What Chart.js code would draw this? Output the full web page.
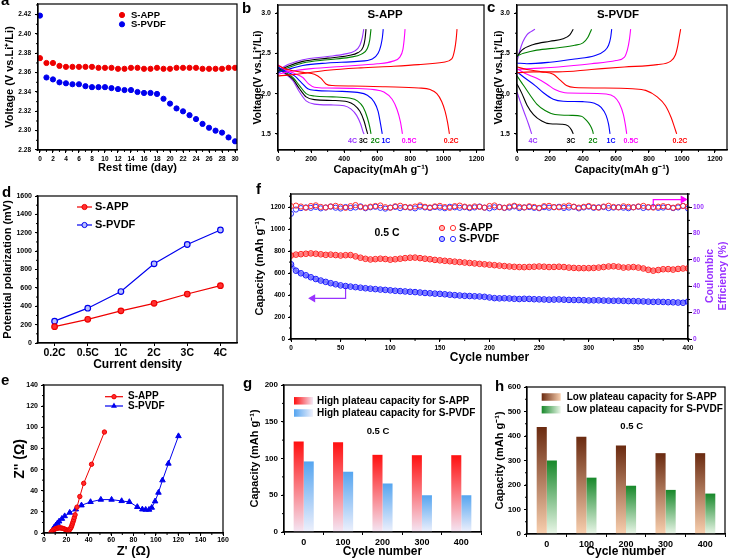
<!DOCTYPE html>
<html>
<head>
<meta charset="utf-8">
<script src="https://cdn.jsdelivr.net/npm/chart.js@4/dist/chart.umd.min.js"></script>
<style>
body { margin: 0; background: #fff; width: 730px; height: 560px; position: relative; overflow: hidden; }
canvas { position: absolute; }
.tag { position: absolute; font: bold 15px "Liberation Sans", Arial, sans-serif; line-height: 15px; }
</style>
</head>
<body>
<canvas id="cA"></canvas><canvas id="cB"></canvas><canvas id="cC"></canvas>
<canvas id="cD"></canvas><canvas id="cF"></canvas>
<canvas id="cE"></canvas><canvas id="cG"></canvas><canvas id="cH"></canvas>
<div class="tag" style="left:1px;top:-8px">a</div>
<div class="tag" style="left:242px;top:0px">b</div>
<div class="tag" style="left:487px;top:-1px">c</div>
<div class="tag" style="left:2px;top:184px">d</div>
<div class="tag" style="left:1px;top:372px">e</div>
<div class="tag" style="left:256px;top:181px">f</div>
<div class="tag" style="left:243px;top:375px">g</div>
<div class="tag" style="left:495px;top:378px">h</div>
<script>
// ---------- a: voltage while resting ----------
const restDays = [0,1,2,3,4,5,6,7,8,9,10,11,12,13,14,15,16,17,18,19,20,21,22,23,24,25,26,27,28,29,30];
const restVoltApp = [2.375,2.370,2.370,2.367,2.366,2.366,2.366,2.366,2.366,2.365,2.365,2.365,2.364,2.364,2.365,2.365,
  2.364,2.364,2.365,2.364,2.364,2.365,2.365,2.365,2.365,2.364,2.364,2.364,2.364,2.365,2.365];
const restVoltPvdf = [2.419,2.355,2.353,2.350,2.349,2.348,2.348,2.346,2.345,2.345,2.345,2.344,2.343,2.342,2.342,2.340,
  2.339,2.339,2.338,2.333,2.328,2.323,2.320,2.316,2.312,2.307,2.303,2.300,2.298,2.293,2.289];

// ---------- b / c: charge-discharge profiles, [capacity, voltage] ----------
const rateNames = ['0.2C', '0.5C', '1C', '2C', '3C', '4C'];
const appDis02 = [[0,2.35],[40,2.31],[100,2.28],[160,2.26],[220,2.24],[260,2.19],[290,2.12],[330,2.10],[450,2.095],[650,2.085],[850,2.07],[920,2.05],[960,2.00],[990,1.90],[1010,1.78],[1025,1.64],[1036,1.50]];
const appDis05 = [[0,2.36],[40,2.30],[100,2.25],[150,2.20],[185,2.12],[220,2.08],[300,2.07],[450,2.065],[580,2.05],[640,2.02],[690,1.93],[720,1.80],[740,1.65],[752,1.50]];
const appDis1 = [[0,2.33],[40,2.28],[100,2.22],[140,2.14],[180,2.06],[230,2.04],[350,2.03],[480,2.015],[540,1.98],[580,1.90],[605,1.78],[620,1.62],[630,1.50]];
const appDis2 = [[0,2.33],[40,2.27],[90,2.20],[130,2.10],[170,2.00],[220,1.97],[330,1.96],[430,1.945],[480,1.91],[515,1.83],[540,1.70],[555,1.58],[562,1.50]];
const appDis3 = [[0,2.32],[40,2.26],[90,2.18],[130,2.06],[170,1.96],[220,1.925],[330,1.915],[420,1.90],[460,1.86],[495,1.78],[520,1.66],[535,1.55],[542,1.50]];
const appDis4 = [[0,2.31],[40,2.25],[90,2.16],[130,2.02],[170,1.91],[220,1.87],[320,1.86],[400,1.85],[440,1.81],[475,1.73],[500,1.62],[515,1.52],[520,1.50]];
const appChg02 = [[0,2.22],[60,2.23],[150,2.25],[300,2.29],[500,2.32],[700,2.34],[850,2.36],[1000,2.39],[1050,2.43],[1068,2.55],[1077,2.68],[1082,2.80]];
const appChg05 = [[0,2.24],[60,2.27],[200,2.31],[400,2.34],[600,2.37],[690,2.40],[735,2.45],[755,2.55],[763,2.68],[768,2.80]];
const appChg1 = [[0,2.26],[60,2.30],[150,2.35],[300,2.38],[480,2.40],[570,2.43],[605,2.50],[622,2.60],[631,2.70],[636,2.80]];
const appChg2 = [[0,2.27],[60,2.32],[150,2.38],[300,2.42],[430,2.45],[505,2.49],[540,2.56],[554,2.66],[562,2.80]];
const appChg3 = [[0,2.28],[60,2.34],[150,2.40],[300,2.44],[420,2.47],[485,2.51],[515,2.58],[526,2.68],[532,2.80]];
const appChg4 = [[0,2.29],[60,2.36],[150,2.42],[300,2.46],[400,2.49],[465,2.53],[495,2.60],[510,2.70],[518,2.80]];

const pvdfDis02 = [[0,2.33],[60,2.30],[150,2.27],[220,2.24],[260,2.17],[300,2.10],[350,2.075],[500,2.07],[700,2.06],[780,2.04],[850,1.96],[900,1.85],[935,1.70],[955,1.58],[968,1.50]];
const pvdfDis05 = [[0,2.31],[50,2.25],[120,2.19],[180,2.12],[230,2.05],[290,2.01],[400,2.005],[540,1.995],[590,1.96],[620,1.88],[645,1.74],[658,1.60],[665,1.50]];
const pvdfDis1 = [[0,2.27],[50,2.19],[110,2.10],[160,2.01],[220,1.93],[280,1.905],[400,1.90],[470,1.88],[510,1.83],[540,1.73],[555,1.62],[564,1.50]];
const pvdfDis2 = [[0,2.22],[40,2.10],[80,1.98],[120,1.87],[170,1.79],[230,1.74],[330,1.73],[390,1.72],[420,1.67],[445,1.60],[458,1.54],[463,1.50]];
const pvdfDis3 = [[0,2.12],[30,2.00],[60,1.86],[100,1.74],[150,1.66],[200,1.625],[270,1.62],[310,1.60],[330,1.55],[341,1.50]];
const pvdfDis4 = [[0,2.02],[20,1.90],[45,1.76],[70,1.62],[89,1.50]];
const pvdfChg02 = [[0,2.26],[100,2.27],[250,2.27],[450,2.30],[650,2.33],[850,2.36],[930,2.40],[960,2.48],[975,2.60],[985,2.72],[992,2.80]];
const pvdfChg05 = [[0,2.30],[80,2.31],[250,2.33],[450,2.37],[600,2.41],[650,2.45],[670,2.55],[682,2.68],[689,2.80]];
const pvdfChg1 = [[0,2.38],[60,2.37],[200,2.39],[350,2.43],[470,2.47],[530,2.53],[555,2.60],[568,2.70],[574,2.80]];
const pvdfChg2 = [[0,2.47],[40,2.50],[120,2.54],[250,2.57],[350,2.60],[400,2.63],[430,2.70],[452,2.80]];
const pvdfChg3 = [[0,2.46],[30,2.54],[100,2.61],[200,2.65],[280,2.68],[320,2.73],[341,2.80]];
const pvdfChg4 = [[0,2.40],[15,2.52],[35,2.64],[60,2.73],[85,2.77],[109,2.80]];

// ---------- d: polarization ----------
const rateCats = ['0.2C', '0.5C', '1C', '2C', '3C', '4C'];
const polApp = [178, 258, 350, 432, 533, 624];
const polPvdf = [238, 379, 560, 862, 1072, 1230];

// ---------- e: Nyquist ----------
const appZre = [6,7,8,9,10,11,12,13,14,15,16,17,18,19,20,21,22,22.8,23.5,24.2,24.8,25.3,25.9,26.5,27.1,27.8,29.5,32,35.5,42.5,54];
const appZim = [0,1.6,2.6,3.3,3.9,4.3,4.6,4.8,4.9,4.8,4.6,4.3,3.9,3.4,3.0,2.6,2.5,3.0,4.0,5.3,6.8,8.5,10.4,12.4,14.6,17.2,24.5,34.5,47,65,95.5];
const pvdfZre = [6,7,8,9,10.5,12,13.5,16,18.5,23,28.4,33.5,41.6,50.8,60.4,69.4,76.3,83.4,87.9,90.9,93.9,96.3,99.3,102.3,105.9,111.2,120.2];
const pvdfZim = [0,1.8,3.5,5.2,7.3,9.2,11,13.5,16,19.3,22.4,26.2,29.4,31.6,31.6,30.3,29.4,24.7,22.4,22.1,22.1,24,30,38.2,49.9,65.7,91.7];

// ---------- f: cycling at 0.5 C (every 5th cycle) ----------
const cycles = [0,5,10,15,20,25,30,35,40,45,50,55,60,65,70,75,80,85,90,95,100,105,110,115,120,125,130,135,140,145,
  150,155,160,165,170,175,180,185,190,195,200,205,210,215,220,225,230,235,240,245,250,255,260,265,270,275,280,285,290,295,
  300,305,310,315,320,325,330,335,340,345,350,355,360,365,370,375,380,385,390,395,400];
const capApp = [760,768,772,776,779,776,771,766,768,764, 760,763,764,752,740,730,724,727,731,728,
  722,726,731,736,740,741,736,731,726,720, 716,712,708,704,700,696,692,688,684,680,
  676,672,668,664,660,657,655,654,656,658, 660,658,655,656,658,655,650,647,645,645,
  645,647,650,655,660,662,658,650,652,655, 650,642,630,622,628,635,636,632,638,642, 643];
const capPvdf = [680,622,598,580,562,546,532,520,508,498, 488,482,477,472,467,462,458,454,450,447,
  443,439,436,433,430,427,423,419,416,413, 411,407,403,399,396,393,391,389,387,384,
  378,372,370,371,369,366,364,366,365,362, 361,360,358,359,360,358,356,355,355,353,
  351,352,352,350,349,348,348,347,345,345, 344,342,340,338,339,337,335,334,332,330, 340];
const ceApp = [100.8,101.2,100.5,99.6,100.9,101.4,100.2,99.8,100.6,101.0, 100.3,99.5,100.8,101.6,100.1,99.7,100.4,100.9,101.3,100.0,
  99.6,100.7,101.1,100.2,99.9,100.5,101.4,100.3,99.8,100.6, 101.0,100.1,99.5,100.8,101.2,100.4,99.9,100.6,100.2,99.7,
  100.9,101.3,100.0,99.6,100.5,101.1,100.3,99.8,100.7,100.2, 99.5,100.8,101.0,100.1,99.9,100.6,101.2,100.4,99.7,100.3,
  100.9,100.0,99.6,100.5,101.1,100.2,99.8,100.7,100.3,99.9, 100.6,101.0,100.1,99.7,100.4,100.8,100.2,99.6,100.5,100.9, 100.3];
const cePvdf = [95.0,98.2,99.3,99.8,99.5,100.2,99.1,99.7,100.4,99.6, 99.0,100.1,99.4,99.8,100.6,99.2,99.9,100.3,99.5,98.9,
  99.7,100.2,99.3,100.0,99.6,99.1,100.4,99.8,99.4,100.1, 99.7,99.2,100.3,99.9,99.5,100.0,99.3,99.8,100.5,99.6,
  99.1,99.9,100.2,99.4,99.7,100.6,99.3,99.8,100.1,99.5, 99.2,100.0,99.6,99.9,100.3,99.4,99.7,100.2,99.1,99.8,
  100.4,99.5,99.9,100.1,99.3,99.7,100.0,99.6,99.2,99.9, 100.3,99.4,99.8,100.1,99.5,99.7,100.2,99.3,99.8,101.0, 99.0];
// arrows pointing at the axis each series belongs to
const capArrowCycle = [55, 55, 22], capArrowValue = [470, 370, 370];
const ceArrowCycle = [365, 365, 395], ceArrowValue = [100, 105.8, 105.8];

// ---------- g / h: plateau capacities ----------
const cycleCats = ['0', '100', '200', '300', '400'];
const highApp = [123, 122, 105, 104.5, 104.5];
const highPvdf = [96, 82, 66, 50, 50];
const lowApp = [437, 397, 361, 330, 330];
const lowPvdf = [300, 230, 197, 180, 165];

// ---------- layout / style ----------
const FF = '"Liberation Sans", Arial, Helvetica, sans-serif';
const RED = '#ee0000', BLUE = '#0000ee', PURPLE = '#9933ff', MAGENTA = '#ff00ff';
const rateColors = ['#ff0000', '#ff00ff', '#0000ff', '#008000', '#000000', '#9933ff'];
const appLabelCap = [1047, 792, 652, 588, 516, 450];
const pvdfLabelCap = [988, 691, 570, 461, 327, 97];

const boxA = {x: 0, y: 0, w: 246, h: 180}, plotA = {l: 38, t: 4, r: 237, b: 150};
const boxB = {x: 240, y: 0, w: 250, h: 181}, plotB = {l: 278, t: 5, r: 484, b: 150};
const boxC = {x: 485, y: 0, w: 245, h: 181}, plotC = {l: 517, t: 5, r: 727, b: 150};
const boxD = {x: 0, y: 185, w: 246, h: 190}, plotD = {l: 38, t: 196, r: 237, b: 343};
const boxF = {x: 240, y: 185, w: 490, h: 189}, plotF = {l: 291, t: 194, r: 688, b: 339};
const boxE = {x: 0, y: 375, w: 240, h: 185}, plotE = {l: 44, t: 385, r: 223, b: 533};
const boxG = {x: 240, y: 375, w: 245, h: 185}, plotG = {l: 284, t: 385, r: 481, b: 532};
const boxH = {x: 485, y: 375, w: 245, h: 185}, plotH = {l: 527, t: 387, r: 725, b: 534};

Chart.defaults.font.family = FF;
Chart.defaults.color = '#000';

function fnt(size, bold = true) { return (bold ? 'bold ' : '') + size + 'px ' + FF; }
function txt(ctx, s, x, y, size, color, align, bold = true) {
  ctx.save();
  ctx.font = fnt(size, bold);
  ctx.fillStyle = color || '#000';
  ctx.textAlign = align || 'left';
  ctx.textBaseline = 'middle';
  ctx.fillText(s, x, y);
  ctx.restore();
}
function circle(ctx, x, y, r, stroke, fill) {
  ctx.save();
  ctx.beginPath(); ctx.arc(x, y, r, 0, Math.PI * 2);
  if (fill) { ctx.fillStyle = fill; ctx.fill(); }
  ctx.strokeStyle = stroke; ctx.lineWidth = 1; ctx.stroke();
  ctx.restore();
}
function triangle(ctx, x, y, r, color) {
  ctx.save();
  ctx.beginPath();
  ctx.moveTo(x, y - r); ctx.lineTo(x + r * 0.87, y + r * 0.5); ctx.lineTo(x - r * 0.87, y + r * 0.5);
  ctx.closePath(); ctx.fillStyle = color; ctx.fill();
  ctx.restore();
}
function hline(ctx, x1, x2, y, color) {
  ctx.save(); ctx.strokeStyle = color; ctx.lineWidth = 1.2;
  ctx.beginPath(); ctx.moveTo(x1, y); ctx.lineTo(x2, y); ctx.stroke(); ctx.restore();
}
function gradBox(ctx, x, y, w, h, c1, c2) {
  const g = ctx.createLinearGradient(x, 0, x + w, 0);
  g.addColorStop(0, c1); g.addColorStop(1, c2);
  ctx.save(); ctx.fillStyle = g; ctx.fillRect(x, y - h / 2, w, h); ctx.restore();
}

function place(id, box) {
  const c = document.getElementById(id);
  c.width = box.w; c.height = box.h;
  c.style.left = box.x + 'px'; c.style.top = box.y + 'px';
  return c.getContext('2d');
}
function fixSize(size) {
  return s => {
    if (s.isHorizontal()) s.height = size; else s.width = size;
    s.paddingTop = s.paddingBottom = s.paddingLeft = s.paddingRight = 0;
  };
}
function axis(o) {
  const ticks = {color: o.color || '#000', padding: o.tickPad ?? 3, font: {size: o.tickSize || 7, weight: 'bold'},
    maxRotation: 0, autoSkip: false};
  if (o.type !== 'category') {
    ticks.stepSize = o.step;
    ticks.includeBounds = false;
    ticks.callback = o.fmt || (v => String(v));
  }
  const s = {
    type: o.type || 'linear', position: o.pos, offset: !!o.offset,
    grid: {display: true, drawOnChartArea: false, drawTicks: true, tickLength: o.tickLen || 3, color: '#000', lineWidth: 1},
    border: {display: true, color: '#000', width: 1.2},
    ticks,
    title: {display: !!o.title, text: o.title || '', color: o.titleColor || '#000',
      font: {size: o.titleSize || 11, weight: 'bold'}, padding: o.titlePad || 0}
  };
  if (o.min !== undefined) s.min = o.min;
  if (o.max !== undefined) s.max = o.max;
  return s;
}
function opts(box, plot, scales, minor) {
  const left = plot.l - box.x, bottom = box.y + box.h - plot.b, right = box.x + box.w - plot.r;
  let hasRight = false;
  for (const s of Object.values(scales)) {
    if (s.position === 'right') { hasRight = true; s.afterFit = fixSize(right); }
    else if (s.position === 'bottom') s.afterFit = fixSize(bottom);
    else s.afterFit = fixSize(left);
  }
  return {
    responsive: false, maintainAspectRatio: false, animation: false,
    layout: {autoPadding: false, padding: {top: plot.t - box.y, right: hasRight ? 0 : right, left: 0, bottom: 0}},
    plugins: {legend: {display: false}, tooltip: {enabled: false}, minorTicks: minor || {}},
    scales
  };
}
const pts = (xs, ys) => xs.map((x, i) => ({x, y: ys[i]}));
const pairs = arr => arr.map(([x, y]) => ({x, y}));

// frame round every plot and small minor ticks
Chart.register({
  id: 'frame',
  afterDraw(chart) {
    const {ctx, chartArea: a} = chart;
    ctx.save(); ctx.strokeStyle = '#000'; ctx.lineWidth = 1.2;
    ctx.strokeRect(a.left, a.top, a.right - a.left, a.bottom - a.top);
    ctx.restore();
  }
});
Chart.register({
  id: 'minorTicks',
  afterDraw(chart, args, o) {
    const {ctx, chartArea: a} = chart;
    ctx.save(); ctx.strokeStyle = '#000'; ctx.lineWidth = 1;
    for (const id of ['x', 'y', 'y2']) {
      const step = o[id], s = chart.scales[id];
      if (!step || !s) continue;
      for (let k = Math.ceil(s.min / step); k * step <= s.max + 1e-9; k++) {
        const p = s.getPixelForValue(k * step);
        ctx.beginPath();
        if (s.isHorizontal()) { ctx.moveTo(p, a.bottom); ctx.lineTo(p, a.bottom + 2); }
        else if (s.position === 'right') { ctx.moveTo(a.right, p); ctx.lineTo(a.right + 2, p); }
        else { ctx.moveTo(a.left, p); ctx.lineTo(a.left - 2, p); }
        ctx.stroke();
      }
    }
    ctx.restore();
  }
});

// ---------- a ----------
new Chart(place('cA', boxA), {
  type: 'scatter',
  data: {datasets: [
    {data: pts(restDays, restVoltApp), backgroundColor: RED, borderColor: RED, pointRadius: 2.6},
    {data: pts(restDays, restVoltPvdf), backgroundColor: BLUE, borderColor: BLUE, pointRadius: 2.6}
  ]},
  options: opts(boxA, plotA, {
    x: axis({pos: 'bottom', min: -0.3, max: 30.3, step: 2, tickSize: 6.5, tickPad: 2, title: 'Rest time (day)', titleSize: 11, titlePad: 5.4}),
    y: axis({pos: 'left', min: 2.28, max: 2.431, step: 0.02, tickSize: 6.5, tickPad: 4, fmt: v => v.toFixed(2),
      title: 'Voltage (V vs.Li⁺/Li)', titleSize: 11, titlePad: 3.4})
  }, {x: 1, y: 0.01}),
  plugins: [{id: 'legA', afterDraw(c) {
    const {ctx, chartArea: a} = c;
    circle(ctx, a.left + 84, a.top + 11, 2.6, RED, RED); txt(ctx, 'S-APP', a.left + 93, a.top + 11, 9.5);
    circle(ctx, a.left + 84, a.top + 20.3, 2.6, BLUE, BLUE); txt(ctx, 'S-PVDF', a.left + 93, a.top + 20.3, 9.5);
  }}]
});

// ---------- b / c ----------
function curveSets(dis, chg) {
  const sets = [];
  dis.forEach((d, i) => {
    [d, chg[i]].forEach(arr => sets.push({
      data: pairs(arr), showLine: true, pointRadius: 0, borderColor: rateColors[i],
      borderWidth: 1.1, cubicInterpolationMode: 'monotone'
    }));
  });
  return sets;
}
function profileChart(id, box, plot, sets, xmax, yPad, name, nameDx, labelCaps) {
  new Chart(place(id, box), {
    type: 'scatter',
    data: {datasets: sets},
    options: opts(box, plot, {
      x: axis({pos: 'bottom', min: 0, max: xmax, step: 200, tickSize: 7, tickPad: 2,
        title: 'Capacity(mAh g⁻¹)', titleSize: 11, titlePad: 4.4}),
      y: axis({pos: 'left', min: 1.3, max: 3.1, step: 0.5, tickSize: 7, tickPad: 4, fmt: v => v.toFixed(1),
        title: 'Voltage(V vs.Li⁺/Li)', titleSize: 10.5, titlePad: yPad})
    }, {x: 100, y: 0.25}),
    plugins: [{id: 'lab' + id, afterDraw(c) {
      const {ctx, chartArea: a, scales: {x, y}} = c;
      txt(ctx, name, a.left + nameDx, a.top + 10, 11.5, '#000', 'center');
      rateNames.forEach((n, i) => txt(ctx, n, x.getPixelForValue(labelCaps[i]), y.getPixelForValue(1.41), 7, rateColors[i], 'center'));
    }}]
  });
}
profileChart('cB', boxB, plotB,
  curveSets([appDis02, appDis05, appDis1, appDis2, appDis3, appDis4], [appChg02, appChg05, appChg1, appChg2, appChg3, appChg4]),
  1245, 11.7, 'S-APP', 107, appLabelCap);
profileChart('cC', boxC, plotC,
  curveSets([pvdfDis02, pvdfDis05, pvdfDis1, pvdfDis2, pvdfDis3, pvdfDis4], [pvdfChg02, pvdfChg05, pvdfChg1, pvdfChg2, pvdfChg3, pvdfChg4]),
  1273, 7.7, 'S-PVDF', 101, pvdfLabelCap);

// ---------- d ----------
new Chart(place('cD', boxD), {
  type: 'line',
  data: {labels: rateCats, datasets: [
    {data: polApp, borderColor: RED, backgroundColor: '#ff3030', pointBorderColor: RED, pointRadius: 2.8, borderWidth: 1.2},
    {data: polPvdf, borderColor: BLUE, backgroundColor: '#b8c0ff', pointBorderColor: BLUE, pointRadius: 2.8, borderWidth: 1.2}
  ]},
  options: opts(boxD, plotD, {
    x: axis({type: 'category', pos: 'bottom', offset: true, tickSize: 10.5, tickPad: 0.7,
      title: 'Current density', titleSize: 12, titlePad: 2.8}),
    y: axis({pos: 'left', min: 0, max: 1600, step: 200, tickSize: 7, tickPad: 3,
      title: 'Potential polarization (mV)', titleSize: 11, titlePad: 1.4})
  }, {y: 100}),
  plugins: [{id: 'legD', afterDraw(c) {
    const {ctx, chartArea: a} = c;
    hline(ctx, a.left + 39, a.left + 54, a.top + 11, RED); circle(ctx, a.left + 46.5, a.top + 11, 2.6, RED, '#ff3030');
    txt(ctx, 'S-APP', a.left + 57, a.top + 11, 11);
    hline(ctx, a.left + 39, a.left + 54, a.top + 29, BLUE); circle(ctx, a.left + 46.5, a.top + 29, 2.6, BLUE, '#b8c0ff');
    txt(ctx, 'S-PVDF', a.left + 57, a.top + 29, 11);
  }}]
});

// ---------- f ----------
new Chart(place('cF', boxF), {
  type: 'scatter',
  data: {datasets: [
    {data: pts(cycles, ceApp), yAxisID: 'y2', borderColor: '#ff3030', backgroundColor: 'rgba(0,0,0,0)', pointRadius: 2.6, borderWidth: 1},
    {data: pts(cycles, cePvdf), yAxisID: 'y2', borderColor: '#3030ff', backgroundColor: 'rgba(0,0,0,0)', pointRadius: 2.6, borderWidth: 1},
    {data: pts(cycles, capApp), showLine: true, borderColor: 'rgba(255,40,40,0.55)', borderWidth: 3.5,
      pointBorderColor: '#ff2020', pointBackgroundColor: 'rgba(255,90,90,0.3)', pointBorderWidth: 1, pointRadius: 2.8},
    {data: pts(cycles, capPvdf), showLine: true, borderColor: 'rgba(30,30,255,0.55)', borderWidth: 3.5,
      pointBorderColor: '#1a1aff', pointBackgroundColor: 'rgba(90,90,255,0.3)', pointBorderWidth: 1, pointRadius: 2.8},
    {data: pts(capArrowCycle, capArrowValue), showLine: true, borderColor: PURPLE, backgroundColor: PURPLE, borderWidth: 1.2,
      pointRadius: [0, 0, 3.5], pointStyle: 'triangle', rotation: [0, 0, -90]},
    {data: pts(ceArrowCycle, ceArrowValue), yAxisID: 'y2', showLine: true, borderColor: MAGENTA, backgroundColor: MAGENTA, borderWidth: 1.2,
      pointRadius: [0, 0, 3.5], pointStyle: 'triangle', rotation: [0, 0, 90]}
  ]},
  options: opts(boxF, plotF, {
    x: axis({pos: 'bottom', min: 0, max: 400, step: 50, tickSize: 6.5, tickPad: 2.4, title: 'Cycle number', titleSize: 12, titlePad: 8.8}),
    y: axis({pos: 'left', min: 0, max: 1320, step: 200, tickSize: 6.5, tickPad: 3, title: 'Capacity (mAh g⁻¹)', titleSize: 11, titlePad: 13.4}),
    y2: axis({pos: 'right', min: 0, max: 110, step: 20, tickSize: 6.5, tickPad: 1, tickLen: 4, color: PURPLE})
  }, {x: 25, y: 100, y2: 10}),
  plugins: [{id: 'legF', afterDraw(c) {
    const {ctx, chartArea: a} = c;
    txt(ctx, '0.5 C', a.left + 96, a.top + 39, 10.5, '#000', 'center');
    circle(ctx, a.left + 151, a.top + 34, 2.6, '#ff2020', 'rgba(255,60,60,0.35)'); circle(ctx, a.left + 162, a.top + 34, 2.6, '#ff3030');
    txt(ctx, 'S-APP', a.left + 168, a.top + 34, 11);
    circle(ctx, a.left + 151, a.top + 45, 2.6, '#1a1aff', 'rgba(60,60,255,0.35)'); circle(ctx, a.left + 162, a.top + 45, 2.6, '#3030ff');
    txt(ctx, 'S-PVDF', a.left + 168, a.top + 45, 11);
    const cy = a.top + 82;
    [['Coulombic', 22], ['Efficiency (%)', 35]].forEach(([s, dx]) => {
      ctx.save(); ctx.translate(a.right + dx, cy); ctx.rotate(-Math.PI / 2);
      txt(ctx, s, 0, 0, 10.5, PURPLE, 'center'); ctx.restore();
    });
  }}]
});

// ---------- e ----------
new Chart(place('cE', boxE), {
  type: 'scatter',
  data: {datasets: [
    {data: pts(appZre, appZim), showLine: true, borderColor: RED, backgroundColor: '#ff2a2a', pointRadius: 2.2, borderWidth: 1},
    {data: pts(pvdfZre, pvdfZim), showLine: true, borderColor: BLUE, backgroundColor: BLUE, pointStyle: 'triangle', pointRadius: 3.2, borderWidth: 1}
  ]},
  options: opts(boxE, plotE, {
    x: axis({pos: 'bottom', min: 0, max: 160, step: 20, tickSize: 7, tickPad: 0, title: "Z' (Ω)", titleSize: 13, titlePad: 1.2}),
    y: axis({pos: 'left', min: 0, max: 140, step: 20, tickSize: 7, tickPad: 3, title: "Z'' (Ω)", titleSize: 14, titlePad: 11.6})
  }, {x: 10, y: 10}),
  plugins: [{id: 'legE', afterDraw(c) {
    const {ctx, chartArea: a} = c;
    hline(ctx, a.left + 61, a.left + 79, a.top + 11.7, RED); circle(ctx, a.left + 70, a.top + 11.7, 2.2, RED, '#ff2a2a');
    txt(ctx, 'S-APP', a.left + 84, a.top + 11.7, 10);
    hline(ctx, a.left + 61, a.left + 79, a.top + 21, BLUE); triangle(ctx, a.left + 70, a.top + 21, 3.4, BLUE);
    txt(ctx, 'S-PVDF', a.left + 84, a.top + 21, 10);
  }}]
});

// ---------- g / h ----------
function barFill(top, bottom) {
  return ctx => {
    const chart = ctx.chart;
    if (ctx.type !== 'data' || !chart.chartArea) return top;
    const y = chart.scales.y;
    const g = chart.ctx.createLinearGradient(0, y.getPixelForValue(ctx.raw), 0, y.getPixelForValue(0));
    g.addColorStop(0, top); g.addColorStop(1, bottom);
    return g;
  };
}
function plateauChart(id, box, plot, vals1, vals2, cols, ymax, ystep, yminor, names, leg) {
  new Chart(place(id, box), {
    type: 'bar',
    data: {labels: cycleCats, datasets: [
      {data: vals1, backgroundColor: barFill(cols[0], cols[1]), barPercentage: 1, categoryPercentage: 0.51},
      {data: vals2, backgroundColor: barFill(cols[2], cols[3]), barPercentage: 1, categoryPercentage: 0.51}
    ]},
    options: opts(box, plot, {
      x: axis({type: 'category', pos: 'bottom', offset: true, tickSize: 9, tickPad: 1.9, title: 'Cycle number', titleSize: 12, titlePad: 0.9}),
      y: axis({pos: 'left', min: 0, max: ymax, step: ystep, tickSize: 8, tickPad: 3, title: 'Capacity (mAh g⁻¹)', titleSize: 11, titlePad: 8.4})
    }, {y: yminor}),
    plugins: [{id: 'leg' + id, afterDraw(c) {
      const {ctx, chartArea: a} = c;
      gradBox(ctx, a.left + leg.bx, a.top + leg.r1, 19, 7.5, cols[0], cols[1]);
      gradBox(ctx, a.left + leg.bx, a.top + leg.r2, 19, 7.5, cols[2], cols[3]);
      txt(ctx, names[0], a.left + leg.tx, a.top + leg.r1, 10);
      txt(ctx, names[1], a.left + leg.tx, a.top + leg.r2, 10);
      txt(ctx, '0.5 C', a.left + leg.cx, a.top + leg.cy, 9.5, '#000', 'center');
    }}]
  });
}
plateauChart('cG', boxG, plotG, highApp, highPvdf, ['#ff1010', '#f4e6f4', '#55a5f0', '#eef0fc'], 200, 50, 25,
  ['High plateau capacity for S-APP', 'High plateau capacity for S-PVDF'],
  {bx: 10, tx: 33, r1: 15.8, r2: 28, cx: 94, cy: 46});
plateauChart('cH', boxH, plotH, lowApp, lowPvdf, ['#6a2a10', '#f8cfae', '#17882a', '#eaf6e8'], 600, 100, 50,
  ['Low plateau capacity for S-APP', 'Low plateau capacity for S-PVDF'],
  {bx: 14.7, tx: 39.7, r1: 10, r2: 22.7, cx: 104.7, cy: 39.7});
</script>
</body>
</html>
